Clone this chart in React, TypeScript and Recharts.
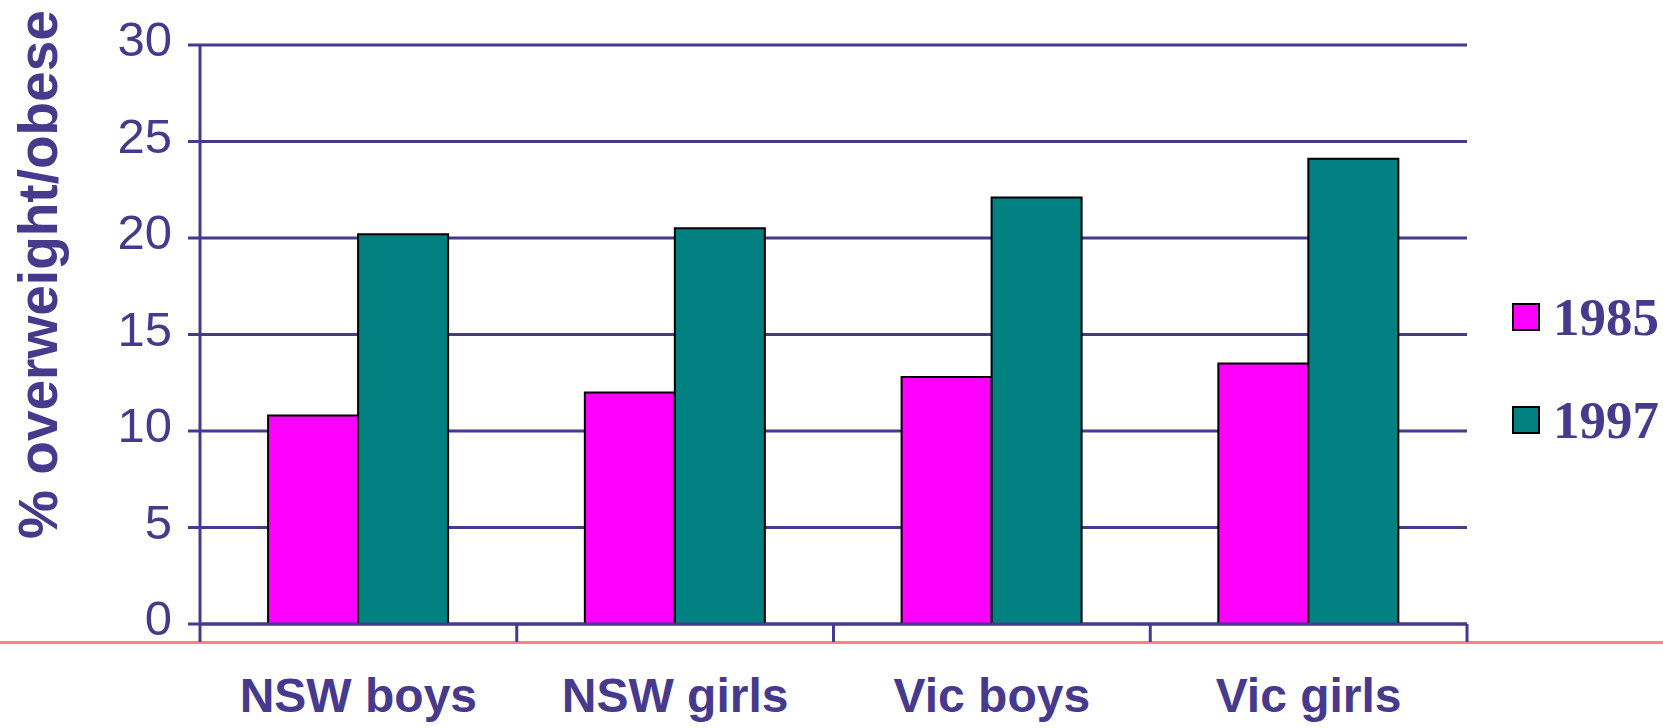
import React from 'react';
import { BarChart, Bar, XAxis, YAxis, CartesianGrid, Legend } from 'recharts';

const categories = ['NSW boys', 'NSW girls', 'Vic boys', 'Vic girls'];
const values1985 = [10.8, 12.0, 12.8, 13.5];
const values1997 = [20.2, 20.5, 22.1, 24.1];
const yTicks = [0, 5, 10, 15, 20, 25, 30];
const seriesNames = ['1985', '1997'];
const seriesColors = ['#FF00FF', '#008080'];
const yLabel = '% overweight/obese';

const data = categories.map((c, i) => ({ name: c, y1985: values1985[i], y1997: values1997[i] }));

const PURPLE = '#47398c';

const YTick = (props: any) => {
  const { x, y, payload } = props;
  return (
    <text x={x} y={y} dy={11} textAnchor="end" fill={PURPLE}
      style={{ fontFamily: "'Liberation Sans Narrow', 'Arial Narrow', 'Liberation Sans', sans-serif", fontSize: 49 }}>
      {payload.value}
    </text>
  );
};

// category label plus tick marks on the band edges (band size from the axis layout)
const XTick = (props: any) => {
  const { x, y, payload, width, visibleTicksCount, index } = props;
  const half = payload && payload.offset ? payload.offset : width / visibleTicksCount / 2;
  const last = index === visibleTicksCount - 1;
  return (
    <g>
      <line x1={x - half} x2={x - half} y1={y} y2={y + 18} stroke={PURPLE} strokeWidth={3} />
      {last && <line x1={x + half} x2={x + half} y1={y} y2={y + 18} stroke={PURPLE} strokeWidth={3} />}
      <text x={x} y={y} dy={88} textAnchor="middle" fill={PURPLE}
        style={{ fontFamily: "'Liberation Sans', Arial, sans-serif", fontSize: 48, fontWeight: 'bold' }}>
        {payload.value}
      </text>
    </g>
  );
};

const YLabel = (props: any) => {
  const { viewBox } = props;
  const cx = viewBox.x + 57;
  const cy = viewBox.y + viewBox.height / 2 - 60;
  return (
    <text x={cx} y={cy} textAnchor="middle" transform={`rotate(-90, ${cx}, ${cy})`} fill={PURPLE}
      style={{ fontFamily: "'Liberation Sans', Arial, sans-serif", fontSize: 55, fontWeight: 'bold' }}>
      {yLabel}
    </text>
  );
};

const LegendContent = () => (
  <div style={{ display: 'flex', flexDirection: 'column', gap: 47 }}>
    {seriesNames.map((n, i) => (
      <div key={n} style={{ display: 'flex', alignItems: 'center', height: 56 }}>
        <div style={{ width: 24, height: 24, background: seriesColors[i], border: '2px solid #000', marginRight: 13 }} />
        <span style={{ fontFamily: "'Liberation Serif', 'Times New Roman', serif", fontWeight: 'bold', fontSize: 53, color: PURPLE, lineHeight: '56px' }}>{n}</span>
      </div>
    ))}
  </div>
);

export default function App() {
  return (
    <div style={{ position: 'absolute', left: 0, top: 0, width: 1663, height: 728, background: '#fff' }}>
      <div style={{ position: 'absolute', left: 0, top: 641, width: 1663, height: 3, background: '#ff8282' }} />
      <div style={{ position: 'absolute', left: 0, top: 0 }}>
        <BarChart width={1663} height={728} data={data}
          margin={{ top: 45, right: 196, bottom: 0, left: 0 }}
          barCategoryGap="21.5%" barGap={0}>
          <CartesianGrid vertical={false} stroke={PURPLE} strokeWidth={3} />
          <XAxis dataKey="name" height={104} axisLine={{ stroke: PURPLE, strokeWidth: 3 }} tickLine={false}
            tickSize={0} tickMargin={0} tick={<XTick />} interval={0} />
          <YAxis width={200} domain={[0, 30]} ticks={yTicks} interval={0}
            axisLine={{ stroke: PURPLE, strokeWidth: 3 }} tickLine={{ stroke: PURPLE, strokeWidth: 3 }}
            tickSize={12} tickMargin={16} tick={<YTick />} label={<YLabel />} />
          <Legend content={<LegendContent />} layout="vertical" verticalAlign="middle" align="center"
            wrapperStyle={{ position: 'absolute', left: 1512, top: 289, width: 150 }} />
          {seriesNames.map((n, i) => (
            <Bar key={n} dataKey={`y${n}`} name={n} fill={seriesColors[i]} stroke="#000" strokeWidth={2}
              isAnimationActive={false} />
          ))}
        </BarChart>
      </div>
    </div>
  );
}
